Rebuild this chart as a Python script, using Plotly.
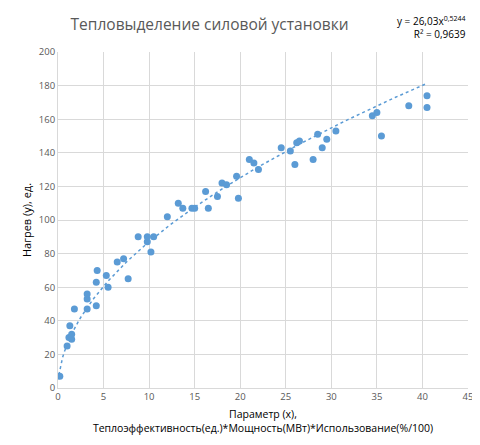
import numpy as np
import plotly.graph_objects as go

x_vals = [0.2,1.0,1.2,1.3,1.5,1.5,1.8,3.2,3.2,3.2,4.2,4.2,4.3,5.3,5.5,6.5,7.2,7.7,8.8,9.8,9.8,10.2,10.5,12.0,13.2,13.7,14.7,15.0,16.2,16.5,17.5,18.0,18.5,19.6,19.8,21.0,21.5,22.0,24.5,25.5,26.0,26.2,26.5,28.0,28.5,29.0,29.5,30.5,34.5,35.0,35.5,38.5,40.5,40.5]
y_vals = [7,25,30,37,29,32,47,47,53,56,49,63,70,67,60,75,77,65,90,87,90,81,90,102,110,107,107,107,117,107,114,122,121,126,113,136,134,130,143,141,133,146,147,136,151,143,148,153,162,164,150,168,174,167]
coef_a, coef_b = 26.03, 0.5244

xt = np.linspace(0.1, 40.5, 200)
yt = coef_a * xt ** coef_b

fig = go.Figure()
fig.add_trace(go.Scatter(x=xt, y=yt, mode="lines", line=dict(color="#5b9bd5", width=1.5, dash="dot"), hoverinfo="skip"))
fig.add_trace(go.Scatter(x=x_vals, y=y_vals, mode="markers", marker=dict(color="#5b9bd5", size=7)))

fig.update_layout(
    width=480, height=445, showlegend=False,
    plot_bgcolor="white", paper_bgcolor="white",
    margin=dict(l=50, r=20, t=44, b=65),
    font=dict(family="Open Sans, Liberation Sans", color="#404040", size=10),
    title=dict(text="Тепловыделение силовой установки", x=0.42, y=0.975, xanchor="center", font=dict(size=15.5, color="#595959")),
    xaxis=dict(range=[0, 45], dtick=5, showgrid=True, gridcolor="#d9d9d9", zeroline=False, showline=True, linecolor="#d9d9d9",
               ticks="", tickfont=dict(size=9.5, color="#595959"),
               title=dict(text="Параметр (x),<br>Теплоэффективность(ед.)*Мощность(МВт)*Использование(%/100)", font=dict(size=10.5, color="#000000"), standoff=8)),
    yaxis=dict(range=[0, 200], dtick=20, showgrid=True, gridcolor="#d9d9d9", zeroline=False, showline=True, linecolor="#d9d9d9",
               ticks="", tickfont=dict(size=9.5, color="#595959"), automargin=False,
               title=dict(text="Нагрев (y), ед.", font=dict(size=11, color="#000000"), standoff=4)),
)
fig.add_annotation(xref="paper", yref="paper", x=1.0, y=1.12, xanchor="right", showarrow=False,
                   text="y = 26,03x<sup>0,5244</sup><br>R² = 0,9639", align="right", font=dict(size=10, color="#000000"))
fig.write_html("out.html")
